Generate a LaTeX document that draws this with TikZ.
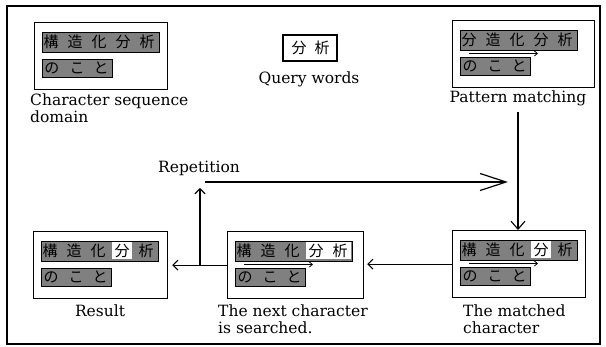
\documentclass[tikz,border=0pt]{standalone}
\usepackage{fontspec}
\setmainfont{DejaVu Serif}
\newfontfamily\cjk{Noto Sans CJK JP}
\usetikzlibrary{arrows.meta}
\definecolor{hlgray}{gray}{0.5}
\tikzset{
  panel/.style={draw, line width=1.2pt, anchor=north west, inner sep=0pt, minimum height=67pt},
  jch/.style={inner sep=0pt, font=\cjk\fontsize{15}{15}\selectfont},
  lbl/.style={inner sep=0pt, font=\fontsize{15.5}{16.5}\selectfont, align=left},
  conn/.style={line width=1.1pt, -{Straight Barb[length=5pt,width=10pt,line width=1.1pt]}},
  inarrow/.style={line width=0.8pt, -{Straight Barb[length=3pt,width=5pt]}},
}
\newcommand\jpanel[3]{%
\begin{scope}[shift={(#1.north west)}]
  \fill[hlgray] (8,10) rectangle (125,30);
  \fill[hlgray] (8,37) rectangle (78,55);
  #3
  \node[jch] (#1-a) at (17,20) {#2};
  \node[jch] (#1-b) at (41,20) {造};
  \node[jch] (#1-c) at (65,20) {化};
  \node[jch] (#1-d) at (89,20) {分};
  \node[jch] (#1-e) at (113,20) {析};
  \node[jch] (#1-f) at (18,46) {の};
  \node[jch] (#1-g) at (43,46) {こ};
  \node[jch] (#1-h) at (67,46) {と};
  \draw[line width=0.8pt] (8,10) rectangle (125,30) (8,37) rectangle (78,55);
\end{scope}}
\newcommand\jarrow[1]{%
\begin{scope}[shift={(#1.north west)}]
  \coordinate (#1-s) at (17,33.5);
  \coordinate (#1-t) at (86,33.5);
  \draw[inarrow] (#1-s) -- (#1-t);
\end{scope}}
\begin{document}
\begin{tikzpicture}[x=1pt,y=-1pt]
\useasboundingbox (0,0) rectangle (606,347);
\draw[line width=1.6pt] (7,6) rectangle (600,344);

% panels
\node[panel, minimum width=133pt] (A) at (34,22) {};
\node[panel, minimum width=142pt] (P) at (452,20) {};
\node[panel, minimum width=134pt] (R) at (33,231) {};
\node[panel, minimum width=136pt] (N) at (227,231) {};
\node[panel, minimum width=133pt] (M) at (452,230) {};
\node[draw, line width=1.2pt, inner sep=0pt, minimum width=54pt, minimum height=26pt] (Q) at (310,48) {};
\node[jch] (Q-a) at (299,48) {分};
\node[jch] (Q-b) at (322,48) {析};

\jpanel{A}{構}{}
\jpanel{P}{分}{}
\jpanel{R}{構}{\fill[white] (79,11.5) rectangle (99,28.5);}
\jpanel{N}{構}{\fill[white] (79,11.5) rectangle (123.5,28.5);}
\jpanel{M}{構}{\fill[white] (79,11.5) rectangle (99,28.5);}
\jarrow{P}
\jarrow{N}
\jarrow{M}

% labels
\node[lbl, anchor=west] (lA) at (30,108) {Character sequence\\domain};
\node[lbl] (lQ) at (309,79) {Query words};
\node[lbl] (lP) at (518,98) {Pattern matching};
\node[lbl] (lR) at (100,311) {Result};
\node[lbl, anchor=west] (lN) at (218,319) {The next character\\is searched.};
\node[lbl, anchor=west] (lM) at (463,319) {The matched\\character};
\node[lbl] (lRep) at (199,168) {Repetition};

% connectors
\coordinate (down) at (518,112);
\draw[line width=1.1pt, -{Straight Barb[length=8pt,width=14pt,line width=1.1pt]}] (down) -- (M.north -| down);
\draw[conn, shorten >=3pt] (M.west) -- (M.west -| N.east);
\draw[conn, shorten >=4pt] (N.west) -- (N.west -| R.east);
\coordinate (up0) at (200,265);
\coordinate (up1) at (200,188);
\draw[conn] (up0) -- (up1);
\coordinate (rep0) at (205,182);
\coordinate (rep1) at (508,182);
\draw[line width=1.2pt, -{Straight Barb[length=26pt,width=17pt,line width=1.2pt]}] (rep0) -- (rep1);
\end{tikzpicture}
\end{document}
